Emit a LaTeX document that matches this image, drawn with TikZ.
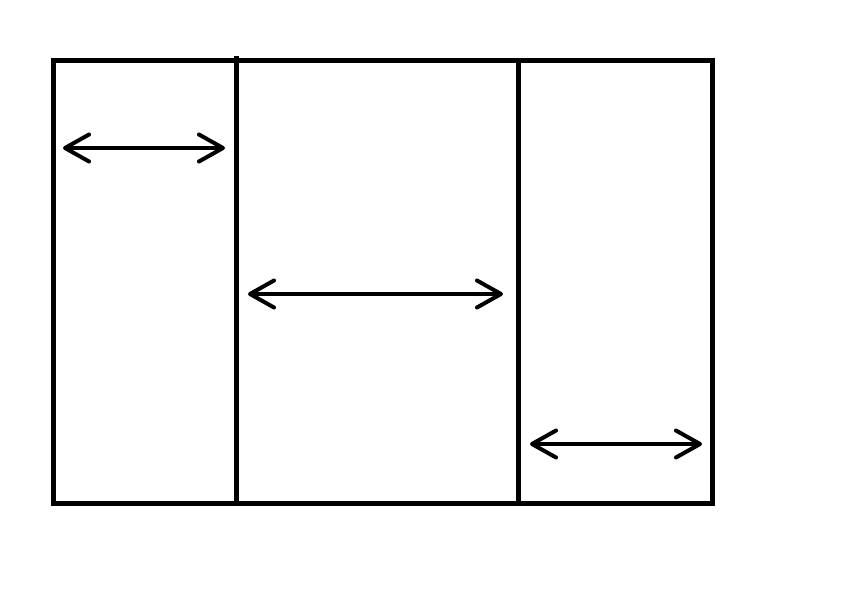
\documentclass[tikz,border=0pt]{standalone}
\usetikzlibrary{arrows.meta}
\begin{document}
\begin{tikzpicture}[x=1pt,y=-1pt,
  wall/.style={line width=5pt},
  dim/.style={line width=4pt,line cap=round,{Straight Barb[length=24pt,width=27pt,line cap=round,line join=round]}-{Straight Barb[length=24pt,width=27pt,line cap=round,line join=round]}}]
\useasboundingbox (0,0) rectangle (862,589);
\draw[wall] (53.5,60.5) rectangle (712.5,503.5);
\draw[wall] (236,56) -- (236,503.5);
\draw[wall] (518,60.5) -- (518,503.5);
\coordinate (a1) at (63,148); \coordinate (a2) at (225,148);
\coordinate (b1) at (248,294); \coordinate (b2) at (503,294);
\coordinate (c1) at (530,444); \coordinate (c2) at (702,444);
\draw[dim] (a1) -- (a2);
\draw[dim] (b1) -- (b2);
\draw[dim] (c1) -- (c2);
\end{tikzpicture}
\end{document}
